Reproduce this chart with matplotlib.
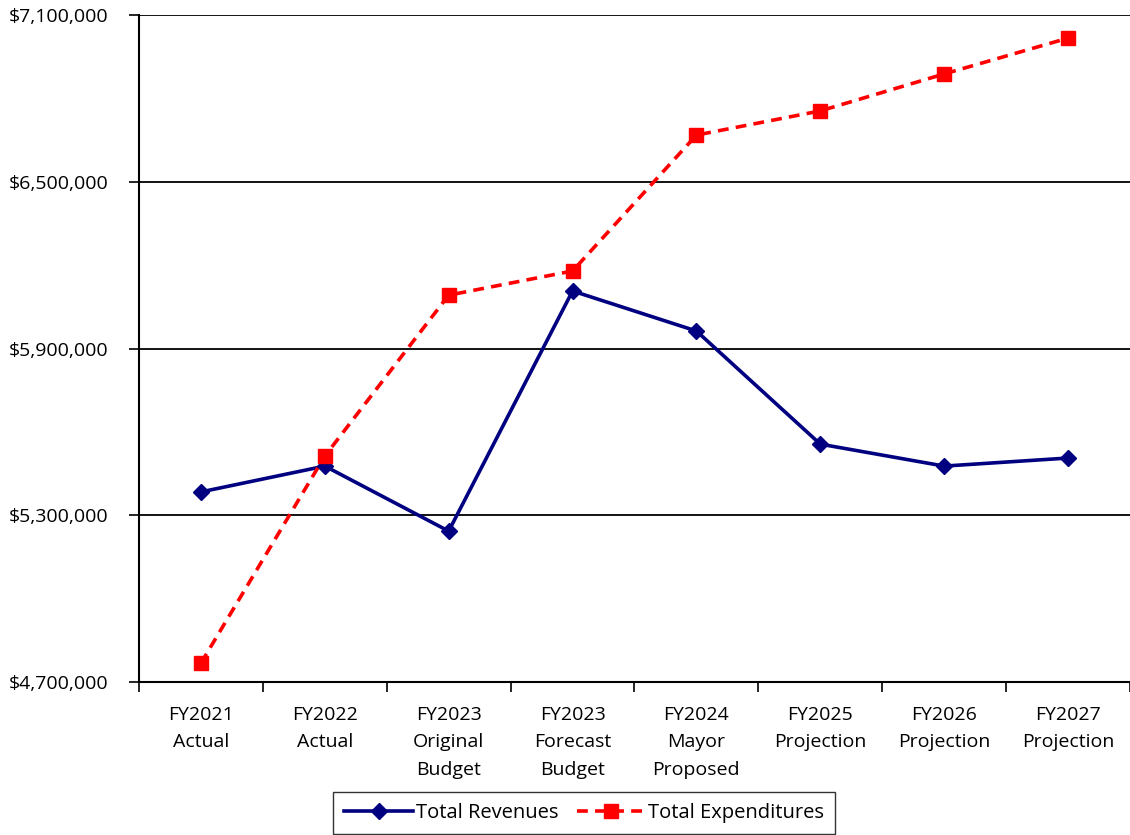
import numpy as np
import matplotlib.pyplot as plt
from matplotlib.ticker import FuncFormatter

plt.rcParams['font.family'] = ['Open Sans', 'DejaVu Sans']

categories = ['FY2021\nActual', 'FY2022\nActual', 'FY2023\nOriginal\nBudget',
              'FY2023\nForecast\nBudget', 'FY2024\nMayor\nProposed',
              'FY2025\nProjection', 'FY2026\nProjection', 'FY2027\nProjection']
revenues = [5384000, 5477000, 5243000, 6107000, 5963000, 5556000, 5477000, 5506000]
expenditures = [4768000, 5513000, 6092000, 6179000, 6668000, 6755000, 6888000, 7017000]

fig = plt.figure(figsize=(11.3, 8.35), dpi=100)
ax = fig.add_axes([0.123, 0.1832, 0.877, 0.7988])

x = np.arange(len(categories))
ax.plot(x, revenues, color='#000080', lw=2.6, marker='D', ms=8,
        label='Total Revenues', zorder=3)
ax.plot(x, expenditures, color='#ff0000', lw=2.6, ls=(0, (3, 2)), marker='s',
        ms=10, label='Total Expenditures', zorder=3)

ax.set_xlim(-0.5, len(categories) - 0.5)
ax.set_ylim(4700000, 7100000)
ax.set_yticks([4700000, 5300000, 5900000, 6500000, 7100000])
ax.yaxis.set_major_formatter(FuncFormatter(lambda v, p: '${:,.0f}'.format(v)))
ax.grid(axis='y', color='black', lw=1.3)
ax.set_axisbelow(True)

# category labels sit between the boundary ticks
ax.set_xticks(x)
ax.set_xticklabels(categories, linespacing=1.7)
ax.set_xticks(np.arange(len(categories) + 1) - 0.5, minor=True)
ax.tick_params(axis='x', which='major', length=0, pad=17, labelsize=14)
ax.tick_params(axis='x', which='minor', length=7, width=1.2)
ax.tick_params(axis='y', length=7, width=1.2, pad=15, labelsize=14)

for s in ['top', 'right']:
    ax.spines[s].set_visible(False)
for s in ['left', 'bottom']:
    ax.spines[s].set_linewidth(1.5)

leg = fig.legend(loc='center', bbox_to_anchor=(0.517, 0.0265), ncol=2,
                 fontsize=14.5, frameon=True, fancybox=False, handlelength=3.4,
                 borderpad=0.55, columnspacing=0.9, handletextpad=0.15,
                 borderaxespad=0)
leg.get_frame().set_edgecolor('black')
leg.get_frame().set_linewidth(1.0)

fig.savefig('out.png', dpi=100)
